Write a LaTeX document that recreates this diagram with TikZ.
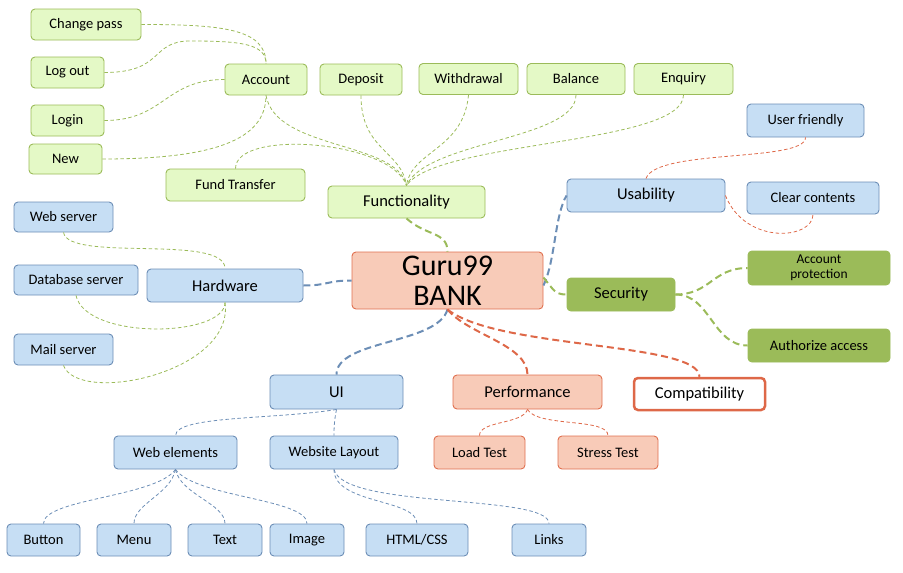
\documentclass[tikz,border=0pt]{standalone}
\usepackage{fontspec}
\setmainfont{Carlito}
\begin{document}
\begin{tikzpicture}[x=1pt,y=-1pt,
  box/.style={draw, rounded corners=4pt, line width=0.9pt, inner sep=1pt, align=center, font=\fontsize{14.5}{15}\selectfont},
  gbox/.style={box, draw=grnB, fill=grnF},
  bbox/.style={box, draw=bluB, fill=bluF},
  rbox/.style={box, draw=redB, fill=redF},
  dbox/.style={box, draw=secG, fill=secG},
  big/.style={font=\fontsize{16.5}{17}\selectfont},
  thin/.style={line width=0.8pt, dash pattern=on 3.5pt off 2.5pt},
  thick/.style={line width=2pt, dash pattern=on 7pt off 4pt},
  gl/.style={thin, draw=grnB},
  bl/.style={thin, draw=bluB},
  rl/.style={thin, draw=redL},
  GL/.style={thick, draw=grnB},
  BL/.style={thick, draw=bluB},
  RL/.style={thick, draw=redL},
]
\definecolor{grnF}{RGB}{228,249,198}
\definecolor{grnB}{RGB}{155,187,89}
\definecolor{secG}{RGB}{155,187,89}
\definecolor{bluF}{RGB}{198,222,244}
\definecolor{bluB}{RGB}{108,142,182}
\definecolor{redF}{RGB}{248,203,184}
\definecolor{redB}{RGB}{224,112,80}
\definecolor{redL}{RGB}{222,104,72}
\useasboundingbox (0,0) rectangle (903,573);

% top green
\node[gbox, minimum width=110pt, minimum height=31pt] (cp) at (86,24.5) {Change pass};
\node[gbox, minimum width=73pt, minimum height=31pt] (lo) at (67.5,72.5) {Log out};
\node[gbox, minimum width=73pt, minimum height=31pt] (lg) at (67.5,120.5) {Login};
\node[gbox, minimum width=73pt, minimum height=30pt] (nw) at (65.5,159) {New};
\node[gbox, minimum width=82pt, minimum height=31pt] (acc) at (266,79.5) {Account};
\node[gbox, minimum width=82pt, minimum height=31pt] (dep) at (361,79.5) {Deposit};
\node[gbox, minimum width=99pt, minimum height=31pt] (wd) at (468.5,79) {Withdrawal};
\node[gbox, minimum width=98pt, minimum height=31pt] (bal) at (576,79) {Balance};
\node[gbox, minimum width=99pt, minimum height=31pt] (enq) at (683.5,79) {Enquiry};
\node[gbox, minimum width=139pt, minimum height=32pt] (ft) at (235.5,185) {Fund Transfer};
\node[gbox, big, minimum width=157pt, minimum height=32pt] (fn) at (406.5,202) {Functionality};

% hardware
\node[bbox, minimum width=99pt, minimum height=30pt] (ws) at (63.5,217) {Web server};
\node[bbox, minimum width=124pt, minimum height=30pt] (db) at (76,280) {Database server};
\node[bbox, minimum width=99pt, minimum height=31pt] (ms) at (63.5,349.5) {Mail server};
\node[bbox, big, minimum width=156pt, minimum height=33pt] (hw) at (225,285.5) {Hardware};

% centre
\node[box, draw=redB, fill=redF, minimum width=191pt, minimum height=57pt, font=\fontsize{30}{30}\selectfont] (guru) at (447.5,280.5) {Guru99\\BANK};

% usability
\node[bbox, minimum width=117pt, minimum height=33pt] (uf) at (805.5,120.5) {User friendly};
\node[bbox, big, minimum width=158pt, minimum height=33pt] (us) at (646,195.5) {Usability};
\node[bbox, minimum width=132pt, minimum height=32pt] (cc) at (813,198) {Clear contents};

% security
\node[dbox, big, minimum width=108pt, minimum height=33pt] (sec) at (621,294.5) {Security};
\node[dbox, minimum width=142pt, minimum height=34pt, font=\fontsize{13.5}{15}\selectfont] (ap) at (819,268) {Account\\protection};
\node[dbox, minimum width=142pt, minimum height=33pt] (aa) at (819,345.5) {Authorize access};

% bottom
\node[bbox, big, minimum width=133pt, minimum height=34pt] (ui) at (336.5,392) {UI};
\node[rbox, big, minimum width=149pt, minimum height=34pt] (pf) at (527.5,392) {Performance};
\node[box, big, draw=redL, fill=white, line width=2.5pt, minimum width=131pt, minimum height=32pt] (cm) at (699.5,394) {Compatibility};
\node[bbox, minimum width=123pt, minimum height=33pt] (we) at (175.5,452.5) {Web elements};
\node[bbox, minimum width=128pt, minimum height=33pt] (wl) at (334,452.5) {Website Layout};
\node[rbox, minimum width=91pt, minimum height=33pt] (lt) at (479.5,452.5) {Load Test};
\node[rbox, minimum width=100pt, minimum height=33pt] (st) at (608,452.5) {Stress Test};
\node[bbox, minimum width=73pt, minimum height=32pt] (bt) at (43.5,540) {Button};
\node[bbox, minimum width=74pt, minimum height=32pt] (mn) at (134,540) {Menu};
\node[bbox, minimum width=74pt, minimum height=32pt] (tx) at (225,540) {Text};
\node[bbox, minimum width=74pt, minimum height=32pt] (im) at (307,540) {Image};
\node[bbox, minimum width=102pt, minimum height=32pt] (ht) at (417,540) {HTML/CSS};
\node[bbox, minimum width=74pt, minimum height=32pt] (lk) at (549,540) {Links};

% functionality connectors
\draw[gl] (cp.east) .. controls +(80,0) and +(0,-35) .. (acc.north);
\draw[gl] (lo.east) .. controls +(60,0) and +(-40,0) .. (190,41) .. controls +(50,0) and +(0,-20) .. (acc.north);
\draw[gl] (lg.east) .. controls +(60,0) and +(-60,0) .. (acc.west);
\draw[gl] (nw.east) .. controls +(110,0) and +(0,45) .. (acc.south);
\draw[gl] (acc.south) .. controls +(10,55) and +(-10,-45) .. (fn.north);
\draw[gl] (ft.north) .. controls +(0,-40) and +(-15,-45) .. (fn.north);
\draw[gl] (dep.south) .. controls +(0,55) and +(-5,-35) .. (fn.north);
\draw[gl] (wd.south) .. controls +(-5,55) and +(5,-35) .. (fn.north);
\draw[gl] (bal.south) .. controls +(0,45) and +(20,-45) .. (fn.north);
\draw[gl] (enq.south) .. controls +(0,50) and +(30,-45) .. (fn.north);
\draw[GL] (fn.south) .. controls +(20,18) and +(0,-20) .. (guru.north);

% hardware connectors
\draw[gl] (ws.south) .. controls +(5,30) and +(0,-35) .. (hw.north);
\draw[gl] (db.south) .. controls +(10,45) and +(0,35) .. (hw.south);
\draw[gl] (ms.south) .. controls +(15,40) and +(10,70) .. (hw.south);
\draw[BL] (hw.east) .. controls +(25,0) and +(-25,0) .. (guru.west);

% right side
\draw[BL] ([yshift=-5pt]guru.east) .. controls +(12,-25) and +(-12,20) .. (us.west);
\draw[GL] ([yshift=3pt]guru.east) .. controls +(10,12) and +(-12,0) .. (sec.west);
\draw[GL] (sec.east) .. controls +(35,0) and +(-35,0) .. (ap.west);
\draw[GL] (sec.east) .. controls +(35,0) and +(-35,0) .. (aa.west);
\draw[rl] (us.north) .. controls +(10,-30) and +(0,25) .. (uf.south);
\draw[rl] (us.east) .. controls +(20,50) and +(0,25) .. (cc.south);

% bottom connectors
\draw[BL] (guru.south) .. controls +(-10,35) and +(0,-35) .. (ui.north);
\draw[RL] (guru.south) .. controls +(20,25) and +(0,-30) .. (pf.north);
\draw[RL] (guru.south) .. controls +(50,40) and +(0,-35) .. (cm.north);
\draw[bl] (ui.south) .. controls +(-60,10) and +(0,-20) .. (we.north);
\draw[bl] (ui.south) .. controls +(-2,10) and +(0,-10) .. (wl.north);
\draw[bl] (we.south) .. controls +(-20,28) and +(0,-25) .. (bt.north);
\draw[bl] (we.south) .. controls +(-5,25) and +(0,-20) .. (mn.north);
\draw[bl] (we.south) .. controls +(5,25) and +(0,-20) .. (tx.north);
\draw[bl] (we.south) .. controls +(20,28) and +(0,-25) .. (im.north);
\draw[bl] (wl.south) .. controls +(0,35) and +(0,-25) .. (ht.north);
\draw[bl] (wl.south) .. controls +(10,40) and +(0,-30) .. (lk.north);
\draw[rl] (pf.south) .. controls +(-5,15) and +(0,-15) .. (lt.north);
\draw[rl] (pf.south) .. controls +(10,18) and +(0,-18) .. (st.north);
\end{tikzpicture}
\end{document}
